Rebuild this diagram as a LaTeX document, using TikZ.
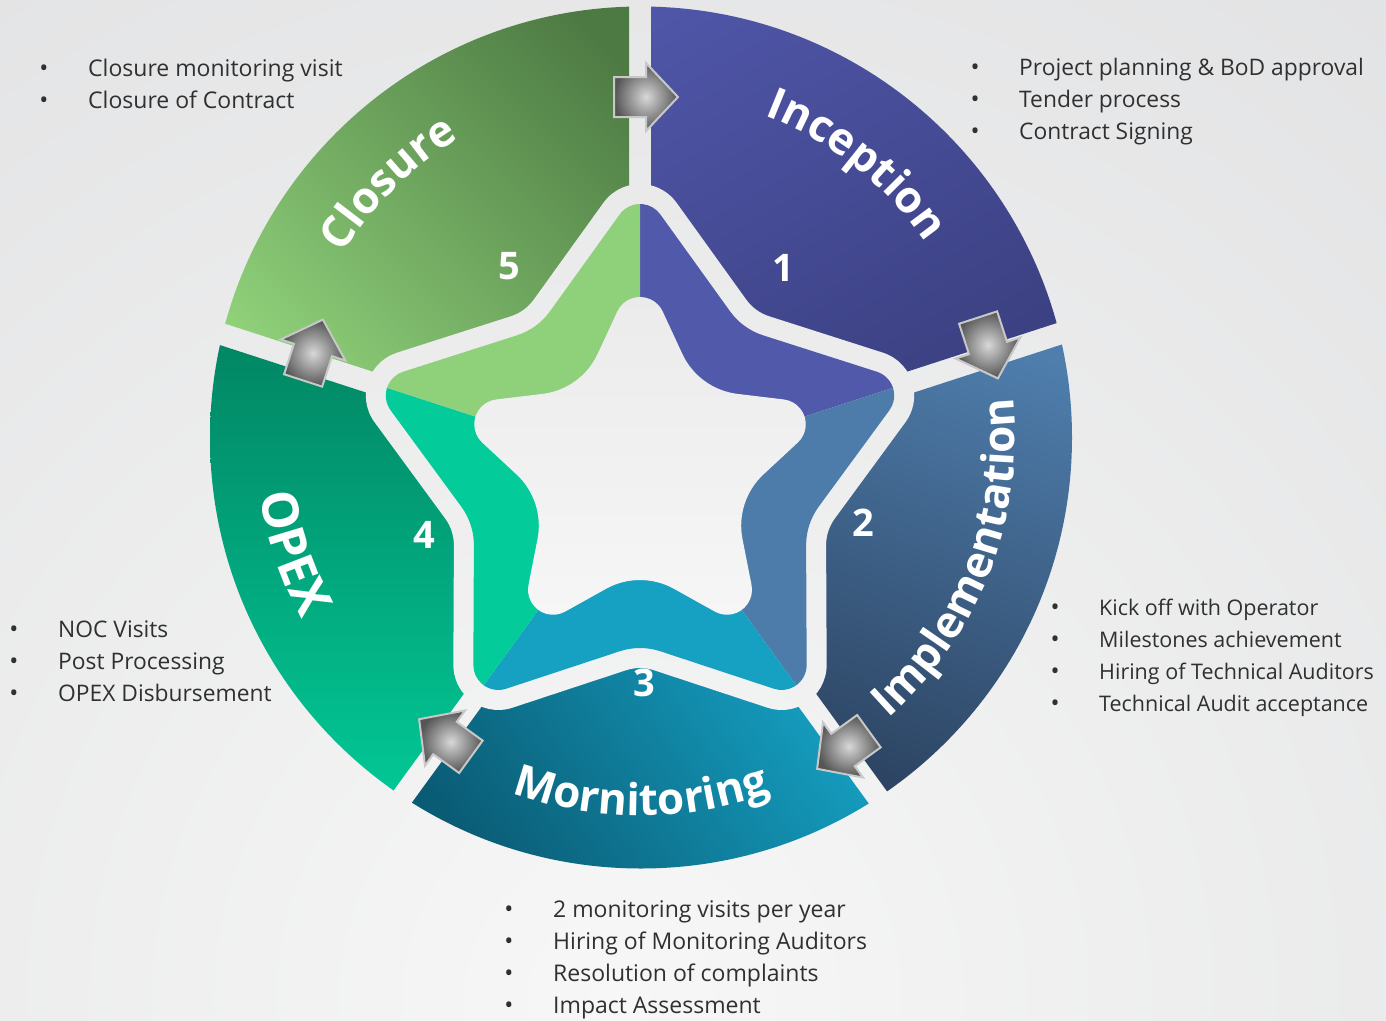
\documentclass[tikz,border=0pt]{standalone}
\usepackage{fontspec}
\setmainfont{Open Sans}
\usetikzlibrary{calc,decorations.text}
\definecolor{bgL}{HTML}{F7F7F7}
\definecolor{bgD}{HTML}{D6D7D9}
\definecolor{txtcol}{HTML}{303030}
\definecolor{arrIn}{HTML}{D8D8D8}
\definecolor{arrOut}{HTML}{555555}
\definecolor{arrEdge}{HTML}{C8C8C8}
\definecolor{incA}{HTML}{5259AD}\definecolor{incM}{HTML}{4F56A7}\definecolor{incB}{HTML}{3C4183}
\definecolor{impA}{HTML}{4F7EAD}\definecolor{impB}{HTML}{2C4361}
\definecolor{monA}{HTML}{16A4C7}\definecolor{monB}{HTML}{0A5B74}
\definecolor{opxA}{HTML}{02805F}\definecolor{opxB}{HTML}{02CB98}
\definecolor{cloA}{HTML}{4D7A43}\definecolor{cloM}{HTML}{80C06B}\definecolor{cloB}{HTML}{8FD079}
\definecolor{inOne}{HTML}{5159AB}
\definecolor{inTwo}{HTML}{4E7CAA}
\definecolor{inThree}{HTML}{16A1C3}
\definecolor{inFour}{HTML}{03CC9A}
\definecolor{inFive}{HTML}{8FD07A}
\definecolor{starA}{HTML}{EBEBEC}
\definecolor{starB}{HTML}{F6F6F6}
\newcommand\titlefont{\bfseries\fontsize{44}{44}\selectfont}
\newcommand\titlefontbig{\bfseries\fontsize{50}{50}\selectfont}
% rounded star: #1 tip-centre distance, #2 tip radius, #3 valley-centre distance, #4 valley radius, #5 tangent angle
\newcommand\rstar[5]{($(C)+(90:#1)+({180-#5}:#2)$)
  \foreach \k in {0,...,4}{
    arc[start angle={180-#5-72*\k}, end angle={#5-72*\k}, radius=#2]
    -- ($(C)+({54-72*\k}:#3)+({180+#5-72*\k}:#4)$)
    arc[start angle={180+#5-72*\k}, end angle={288-#5-72*\k}, radius=#4]
    -- ($(C)+({18-72*\k}:#1)+({108-#5-72*\k}:#2)$)
  } -- cycle}
\newcommand\wedgepath[1]{($(C)+(#1:18.7)$) -- ($(C)+(#1:18.7)+({#1+36}:700)$) -- ($(C)+(#1:900)$) -- ($(C)+(#1:18.7)+({#1-36}:700)$) -- cycle}
\newcommand\fullwedge[1]{(C) -- ($(C)+({#1+36}:700)$) -- ($(C)+(#1:900)$) -- ($(C)+({#1-36}:700)$) -- cycle}
\newcommand\bgshade{\shade[bgfill] (-1380,-3000) rectangle (2620,1000);}
\newcommand\blockarrow[2]{\begin{scope}[shift={#1},rotate=#2]
  \shade[arrowstyle] (-32,-20) -- (0,-20) -- (0,-34) -- (32,0) -- (0,34) -- (0,20) -- (-32,20) -- cycle;
\end{scope}}
\tikzset{
  bgfill/.style={inner color=bgL, outer color=bgD},
  arrowstyle/.style={inner color=arrIn, outer color=arrOut, draw=arrEdge, line width=2pt, line join=miter},
  bullettext/.style={anchor=base west, text=txtcol, font=\fontsize{#1}{27}\selectfont, inner sep=0pt},
  bullettext/.default=22.5,
  bulletdot/.style={anchor=base, text=txtcol, font=\fontsize{24}{27}\selectfont, inner sep=0pt},
  numlabel/.style={text=white, font=\bfseries\fontsize{38}{40}\selectfont, inner sep=0pt},
  titlepath/.style={decorate, decoration={text along path, text format delimiters={|}{|},
     text color=white, text align=center, text={|\titlefont|#1}}},
  titlepathbig/.style={decorate, decoration={text along path, text format delimiters={|}{|},
     text color=white, text align=center, text={|\titlefontbig|#1}}}
}
\begin{document}
\begin{tikzpicture}[x=1pt,y=1pt]
\useasboundingbox (0,0) rectangle (1386,-1020);
\coordinate (C) at (640,-470);
\coordinate (O) at (641,-437.5);
% background
\begin{scope}
  \clip (0,0) rectangle (1386,-1020);
  \bgshade
\end{scope}
% outer segments
\begin{scope}
  \clip \wedgepath{54};
  \clip (O) circle[radius=431];
  \shade[top color=incA, middle color=incM, bottom color=incB, shading angle=30] (560,120) rectangle (1090,-400);
\end{scope}
\begin{scope}
  \clip \wedgepath{-18};
  \clip (O) circle[radius=431];
  \shade[top color=impA, bottom color=impB, shading angle=-20] (770,-300) rectangle (1090,-820);
\end{scope}
\begin{scope}
  \clip \wedgepath{-90};
  \clip (O) circle[radius=431];
  \shade[top color=monA, bottom color=monB, shading angle=-55] (390,-600) rectangle (890,-880);
\end{scope}
\begin{scope}
  \clip \wedgepath{-162};
  \clip (O) circle[radius=431];
  \shade[top color=opxA, bottom color=opxB] (195,-300) rectangle (530,-820);
\end{scope}
\begin{scope}
  \clip \wedgepath{126};
  \clip (O) circle[radius=431];
  \shade[top color=cloA, middle color=cloM, bottom color=cloB, shading angle=-45] (195,0) rectangle (700,-420);
\end{scope}
% outline band (background showing through)
\begin{scope}
  \clip \rstar{241}{45}{243}{45}{35.74};
  \bgshade
\end{scope}
% inner coloured star
\begin{scope}
  \clip \rstar{241}{25}{243}{65}{35.74};
  \fill[inOne] \fullwedge{54};
  \fill[inTwo] \fullwedge{-18};
  \fill[inThree] \fullwedge{-90};
  \fill[inFour] \fullwedge{-162};
  \fill[inFive] \fullwedge{126};
\end{scope}
% central light star
\shade[top color=starA, bottom color=starB] \rstar{148}{25}{180}{70}{24.87};
% arrows
\blockarrow{(646,-97)}{0}
\blockarrow{(988,-348)}{-72}
\blockarrow{(843,-750)}{-144}
\blockarrow{(445,-738)}{144}
\blockarrow{(313,-350)}{72}
% titles
\path[titlepath=Inception] ($(O)+(101.7:345)$) arc[start angle=101.7, end angle=1.7, radius=345];
\path[titlepath=Closure] ($(O)+(184.8:350)$) arc[start angle=184.8, end angle=84.8, radius=350];
\path[titlepath=Implementation] ($(O)+(-101.2:374)$) arc[start angle=-101.2, end angle=58.8, radius=374];
\path[titlepathbig=OPEX] ($(O)+(138.4:385)$) arc[start angle=138.4, end angle=258.4, radius=385];
\path[titlepath=Mornitoring] ($(O)+(200:378)$) arc[start angle=200, end angle=340, radius=378];
% numbers
\node[numlabel] (n1) at (783,-268) {1};
\node[numlabel] (n2) at (863,-523) {2};
\node[numlabel] (n3) at (644,-683) {3};
\node[numlabel] (n4) at (424,-535) {4};
\node[numlabel] (n5) at (509,-266) {5};
% bullet lists
\node[bulletdot] (d51) at (44,-76.7) {\textbullet};
\node[bullettext=23] (t51) at (88,-76.7) {Closure monitoring visit};
\node[bulletdot] (d52) at (44,-108.7) {\textbullet};
\node[bullettext=23] (t52) at (88,-108.7) {Closure of Contract};
\node[bulletdot] (d11) at (975,-75.5) {\textbullet};
\node[bullettext=22.8] (t11) at (1019,-75.5) {Project planning \& BoD approval};
\node[bulletdot] (d12) at (975,-107.5) {\textbullet};
\node[bullettext=22.8] (t12) at (1019,-107.5) {Tender process};
\node[bulletdot] (d13) at (975,-139.5) {\textbullet};
\node[bullettext=22.8] (t13) at (1019,-139.5) {Contract Signing};
\node[bulletdot] (d41) at (14,-637.5) {\textbullet};
\node[bullettext=22.8] (t41) at (58,-637.5) {NOC Visits};
\node[bulletdot] (d42) at (14,-669.5) {\textbullet};
\node[bullettext=22.8] (t42) at (58,-669.5) {Post Processing};
\node[bulletdot] (d43) at (14,-701.5) {\textbullet};
\node[bullettext=22.8] (t43) at (58,-701.5) {OPEX Disbursement};
\node[bulletdot] (d21) at (1055,-615.5) {\textbullet};
\node[bullettext=21.5] (t21) at (1099,-615.5) {Kick off with Operator};
\node[bulletdot] (d22) at (1055,-647.5) {\textbullet};
\node[bullettext=21.5] (t22) at (1099,-647.5) {Milestones achievement};
\node[bulletdot] (d23) at (1055,-679.5) {\textbullet};
\node[bullettext=21.5] (t23) at (1099,-679.5) {Hiring of Technical Auditors};
\node[bulletdot] (d24) at (1055,-711.5) {\textbullet};
\node[bullettext=21.5] (t24) at (1099,-711.5) {Technical Audit acceptance};
\node[bulletdot] (d31) at (509,-917.5) {\textbullet};
\node[bullettext=23] (t31) at (553,-917.5) {2 monitoring visits per year};
\node[bulletdot] (d32) at (509,-949.5) {\textbullet};
\node[bullettext=23] (t32) at (553,-949.5) {Hiring of Monitoring Auditors};
\node[bulletdot] (d33) at (509,-981.5) {\textbullet};
\node[bullettext=23] (t33) at (553,-981.5) {Resolution of complaints};
\node[bulletdot] (d34) at (509,-1013.5) {\textbullet};
\node[bullettext=23] (t34) at (553,-1013.5) {Impact Assessment};
\end{tikzpicture}
\end{document}
